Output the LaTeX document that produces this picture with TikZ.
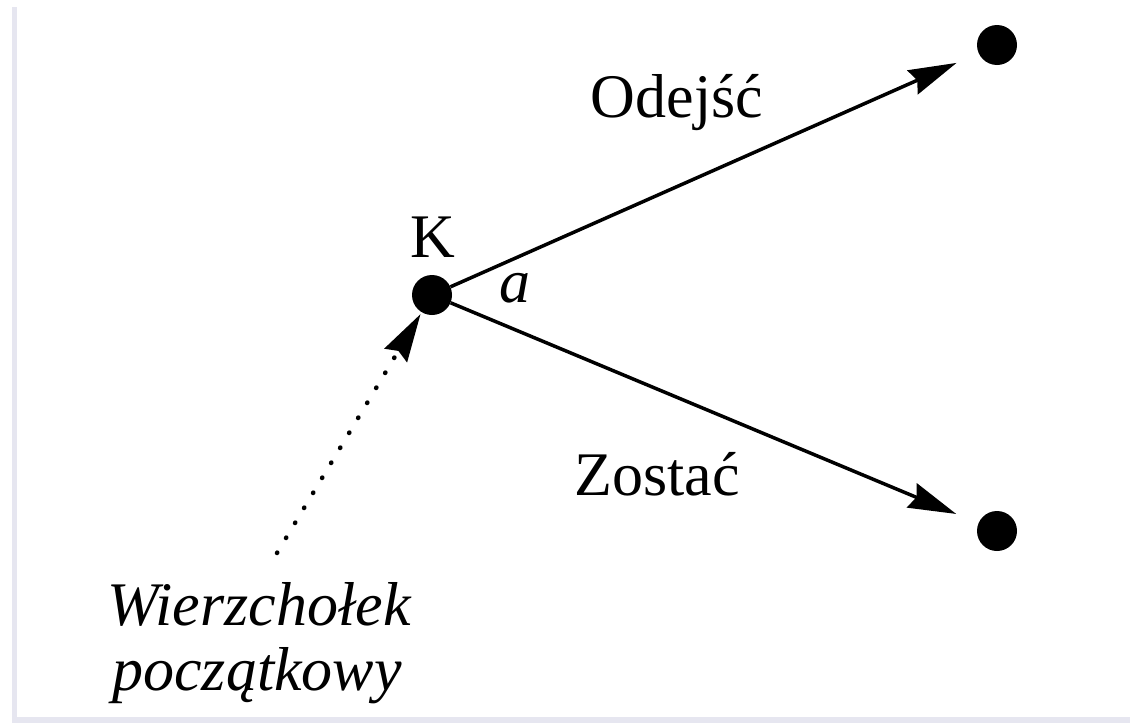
\documentclass[tikz,border=0pt]{standalone}
\usepackage{fontspec}
\setmainfont{Liberation Serif}
\usetikzlibrary{arrows.meta}
\definecolor{frame}{RGB}{230,230,240}
\tikzset{
  dotnode/.style={circle,fill=black,inner sep=0pt,minimum size=40pt},
  lbl/.style={font=\fontsize{62}{65}\selectfont,inner sep=0pt,anchor=base},
  tip/.style={-{Stealth[length=48pt,width=26pt,inset=5pt]}},
  arr/.style={tip,line width=3.5pt,shorten >=24pt},
  dotarr/.style={tip,line width=4.5pt,line cap=round,dash pattern=on 0.5pt off 17pt,shorten >=2pt}
}
\begin{document}
\begin{tikzpicture}[x=1pt,y=-1pt]
\useasboundingbox (0,0) rectangle (1130,723);
\fill[white] (0,0) rectangle (1130,723);
\fill[frame] (12,7) rectangle (17,723);
\fill[frame] (12,717) rectangle (1130,723);
\node[dotnode] (K) at (432,295) {};
\node[dotnode] (T) at (997,45) {};
\node[dotnode] (B) at (997,531) {};
\coordinate (S) at (277,553);
\draw[arr] (K) -- (T);
\draw[arr] (K) -- (B);
\draw[dotarr] (S) -- (K);
\node[lbl] (lK) at (433,257) {K};
\node[lbl] (la) at (515,302) {\itshape a};
\node[lbl] (lO) at (677,117) {Odejść};
\node[lbl] (lZ) at (657,495) {Zostać};
\node[lbl] (lW1) at (259,625) {\itshape Wierzchołek};
\node[lbl] (lW2) at (257,690) {\itshape początkowy};
\end{tikzpicture}
\end{document}
